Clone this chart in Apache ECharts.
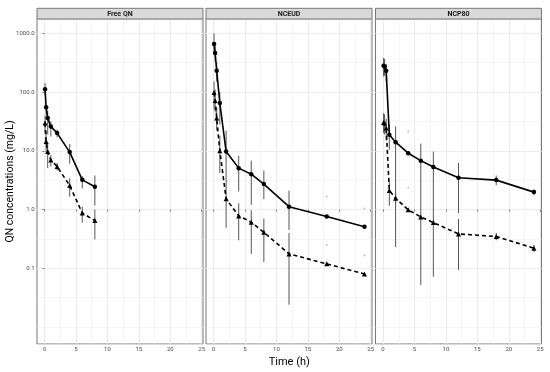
<!DOCTYPE html>
<html><head><meta charset="utf-8">
<script src="https://cdn.jsdelivr.net/npm/echarts@6/dist/echarts.min.js"></script>
<style>html,body{margin:0;padding:0;background:#fff}#c{width:550px;height:372px}</style>
</head><body><div id="c"></div>
<script>
// ---------- DATA ----------
const panelNames = ['Free QN', 'NCEUD', 'NCP80'];
const timesFree = [0.083, 0.25, 0.5, 1, 2, 4, 6, 8];
const timesNC = [0.083, 0.25, 0.5, 1, 2, 4, 6, 8, 12, 18, 24];

// Free QN
const freeSolid   = [112, 55, 36, 26, 20, 9.5, 3.2, 2.44];
const freeSolidLo = [88, 41, 19, 17.5, 17, 6, 2.3, 1.17];
const freeSolidHi = [142, 58, 48, 31.6, 23, 13, 3.7, 3.8];
const freeDash    = [29.6, 14.4, 9.7, 7.0, 5.4, 2.56, 0.87, 0.65];
const freeDashLo  = [20, 9.5, 5.1, 5.4, 4.6, 1.66, 0.6, 0.31];
const freeDashHi  = [40, 22, 13.6, 8.5, 6.2, 3.4, 1.12, 1.0];

// NCEUD
const nceudSolid   = [657, 462, 231, 65, 9.7, 5.07, 4.0, 2.71, 1.12, 0.76, 0.51];
const nceudSolidLo = [470, 330, 150, 28, 3.5, 2.03, 1.2, 1.5, 0.45, 0.72, 0.49];
const nceudSolidHi = [1000, 620, 320, 100, 22, 8.2, 6.8, 4.6, 2.1, 0.8, 0.53];
const nceudDash    = [98, 72, 36, 10, 1.52, 0.78, 0.61, 0.41, 0.176, 0.119, 0.080];
const nceudDashLo  = [50, 45, 22, 4.2, 0.49, 0.30, 0.176, 0.127, 0.024, 0.115, 0.077];
const nceudDashHi  = [152, 110, 55, 18, 3.5, 1.28, 0.97, 0.7, 0.4, 0.123, 0.083];
const nceudDotsT = [18, 18, 24, 24];
const nceudDotsV = [1.66, 0.25, 1.05, 0.165];

// NCP80
const ncp80Solid   = [281, 273, 231, 18.7, 14, 9.1, 6.8, 5.3, 3.47, 3.17, 1.98];
const ncp80SolidLo = [185, 190, 150, 10.4, 0.23, 8.5, 0.052, 0.072, 0.87, 2.6, 1.75];
const ncp80SolidHi = [380, 370, 300, 28, 26, 9.7, 13.2, 9.7, 6.2, 3.8, 2.2];
const ncp80Dash    = [30.3, 29.6, 24.4, 2.11, 1.56, 0.99, 0.75, 0.60, 0.385, 0.347, 0.22];
const ncp80DashLo  = [20, 19, 15, 1.16, 1.3, 0.95, 0.72, 0.58, 0.094, 0.30, 0.19];
const ncp80DashHi  = [43.6, 42, 35, 3.0, 1.9, 1.03, 0.78, 0.62, 0.69, 0.40, 0.25];
const ncp80DotsT = [4, 4];
const ncp80DotsV = [21.3, 2.37];

const xTicks = [0, 5, 10, 15, 20, 25];
const yTicks = [0.1, 1, 10, 100, 1000];
const yTickLabels = ['0.1', '1.0', '10.0', '100.0', '1000.0'];
const xTitle = 'Time (h)';
const yTitle = 'QN concentrations (mg/L)';

// ---------- LAYOUT ----------
const LEFTS = [37, 206, 375.5];
const PW = 166;
const PTOP = 19, PBOT = 344;
const STRIP_TOP = 8.3;
const X_MIN = -1.2, X_MAX = 25.2;
const LOG_MIN = -2.2885, LOG_MAX = 3.2434;
const Y_MIN = Math.pow(10, LOG_MIN), Y_MAX = Math.pow(10, LOG_MAX);
const FONT = 'Roboto, "Liberation Sans", Arial, sans-serif';

const panelData = [
  {t: timesFree, s: freeSolid, sl: freeSolidLo, sh: freeSolidHi, d: freeDash, dl: freeDashLo, dh: freeDashHi, dt: [], dv: []},
  {t: timesNC, s: nceudSolid, sl: nceudSolidLo, sh: nceudSolidHi, d: nceudDash, dl: nceudDashLo, dh: nceudDashHi, dt: nceudDotsT, dv: nceudDotsV},
  {t: timesNC, s: ncp80Solid, sl: ncp80SolidLo, sh: ncp80SolidHi, d: ncp80Dash, dl: ncp80DashLo, dh: ncp80DashHi, dt: ncp80DotsT, dv: ncp80DotsV}
];

const grids = [], xAxes = [], yAxes = [], series = [], graphics = [];
const zip = (a, b) => a.map((v, i) => [v, b[i]]);
const zip3 = (a, b, c) => a.map((v, i) => [v, b[i], c[i]]);

const errRender = function (params, api) {
  const a = api.coord([api.value(0), api.value(1)]);
  const b = api.coord([api.value(0), api.value(2)]);
  return {type: 'line', shape: {x1: a[0], y1: a[1], x2: b[0], y2: b[1]},
          style: {stroke: '#555', lineWidth: 1}};
};

panelNames.forEach((name, i) => {
  grids.push({left: LEFTS[i], top: PTOP, width: PW, height: PBOT - PTOP,
    show: true, borderColor: '#777', borderWidth: 1, backgroundColor: '#fff', containLabel: false});
  xAxes.push({type: 'value', gridIndex: i, min: X_MIN, max: X_MAX, minInterval: 5, maxInterval: 5,
    axisLine: {show: false},
    axisTick: {show: true, customValues: xTicks, length: 2, lineStyle: {color: '#555', width: 0.8}},
    axisLabel: {show: true, customValues: xTicks, fontSize: 6, color: '#4D4D4D', margin: 2.5, fontFamily: FONT},
    splitLine: {show: true, lineStyle: {color: '#EBEBEB', width: 1}},
    minorTick: {show: false, splitNumber: 2},
    minorSplitLine: {show: true, lineStyle: {color: '#EFEFEF', width: 0.6}}
  });
  yAxes.push({type: 'log', logBase: 10, gridIndex: i, min: Y_MIN, max: Y_MAX,
    axisLine: {show: false},
    axisTick: {show: i === 0, customValues: yTicks, length: 2, lineStyle: {color: '#555', width: 0.8}},
    axisLabel: {show: i === 0, customValues: yTicks, fontSize: 6, color: '#4D4D4D', margin: 2.5, fontFamily: FONT,
      formatter: v => { const k = yTicks.findIndex(t => Math.abs(t - v) / t < 1e-6); return k >= 0 ? yTickLabels[k] : ''; }},
    splitLine: {show: true, lineStyle: {color: '#EBEBEB', width: 1}}
  });
  yAxes.push({type: 'value', gridIndex: i, min: LOG_MIN, max: LOG_MAX, minInterval: 0.5, maxInterval: 0.5,
    axisLine: {show: false}, axisTick: {show: false}, axisLabel: {show: false},
    splitLine: {show: true, lineStyle: {color: '#EFEFEF', width: 0.6}}
  });
  const p = panelData[i];
  const yi = 2 * i;
  series.push({type: 'custom', name: name + ' solid SD', xAxisIndex: i, yAxisIndex: yi,
    renderItem: errRender, encode: {x: 0, y: [1, 2]}, data: zip3(p.t, p.sl, p.sh), z: 2, silent: true});
  series.push({type: 'custom', name: name + ' dashed SD', xAxisIndex: i, yAxisIndex: yi,
    renderItem: errRender, encode: {x: 0, y: [1, 2]}, data: zip3(p.t, p.dl, p.dh), z: 2, silent: true});
  series.push({type: 'line', name: name + ' solid', xAxisIndex: i, yAxisIndex: yi, data: zip(p.t, p.s),
    symbol: 'circle', symbolSize: 4.5, showSymbol: true,
    lineStyle: {color: '#000', width: 1.6}, itemStyle: {color: '#000'}, z: 3, silent: true, animation: false});
  series.push({type: 'line', name: name + ' dashed', xAxisIndex: i, yAxisIndex: yi, data: zip(p.t, p.d),
    symbol: 'triangle', symbolSize: 5, showSymbol: true,
    lineStyle: {color: '#000', width: 1.6, type: [4, 3]}, itemStyle: {color: '#000'}, z: 3, silent: true, animation: false});
  if (p.dt.length) {
    series.push({type: 'scatter', name: name + ' dots', xAxisIndex: i, yAxisIndex: yi, data: zip(p.dt, p.dv),
      symbol: 'circle', symbolSize: 1.8, itemStyle: {color: '#aaa'}, z: 2, silent: true});
  }
  // strip
  graphics.push({type: 'rect', shape: {x: LEFTS[i], y: STRIP_TOP, width: PW, height: PTOP - STRIP_TOP},
    style: {fill: '#D9D9D9', stroke: '#777', lineWidth: 1}, z: 10});
  graphics.push({type: 'text', x: LEFTS[i] + PW / 2, y: (STRIP_TOP + PTOP) / 2 + 0.3,
    style: {text: name, fontSize: 7, fontWeight: 'bold', fill: '#1A1A1A', align: 'center', verticalAlign: 'middle', fontFamily: FONT}, z: 11});
});

graphics.push({type: 'text', x: (LEFTS[0] + LEFTS[2] + PW) / 2, y: 362,
  style: {text: xTitle, fontSize: 11, fill: '#000', align: 'center', verticalAlign: 'middle', fontFamily: FONT}});
graphics.push({type: 'text', x: 10, y: (PTOP + PBOT) / 2, rotation: Math.PI / 2,
  style: {text: yTitle, fontSize: 10.5, fill: '#000', align: 'center', verticalAlign: 'middle', fontFamily: FONT}});

const chart = echarts.init(document.getElementById('c'), null, {renderer: 'canvas'});
chart.setOption({
  animation: false,
  backgroundColor: '#fff',
  grid: grids, xAxis: xAxes, yAxis: yAxes, series: series, graphic: graphics
});
</script></body></html>
